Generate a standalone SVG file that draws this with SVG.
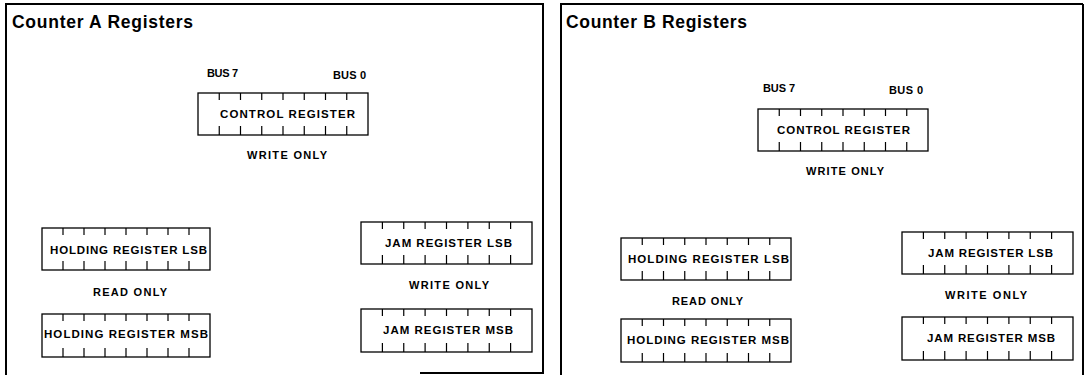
<svg xmlns="http://www.w3.org/2000/svg" width="1087" height="375" viewBox="0 0 1087 375">
<style>
.frame{fill:none;stroke:#000;stroke-width:2}
.box{fill:#fff;stroke:#000;stroke-width:1.3}
.tick{fill:none;stroke:#000;stroke-width:1.2}
.title{font-family:"Liberation Sans",Arial,sans-serif;font-weight:bold;font-size:17.5px;fill:#000}
.lbl{font-family:"Liberation Sans",Arial,sans-serif;font-weight:bold;font-size:11px;fill:#000}
.reg{font-family:"Liberation Sans",Arial,sans-serif;font-weight:bold;font-size:11.5px;fill:#000}
</style>
<g id="panelA">
<path class="frame" d="M6,375 V4 H543 V373 H420"/>
<text class="title" x="12" y="28" textLength="181" lengthAdjust="spacing">Counter A Registers</text>
</g>
<g id="panelB">
<path class="frame" d="M561,375 V4 H1083"/>
<path class="frame" stroke-width="3" d="M1083,4 V375"/>
<text class="title" x="566" y="28" textLength="181" lengthAdjust="spacing">Counter B Registers</text>
</g>
<g id="ctrlA">
<rect class="box" x="198" y="93" width="170" height="42"/>
<path class="tick" d="M219.25,93v7M240.5,93v7M261.75,93v7M283,93v7M304.25,93v7M325.5,93v7M346.75,93v7M219.25,126v9M240.5,126v9M261.75,126v9M283,126v9M304.25,126v9M325.5,126v9M346.75,126v9"/>
<text class="reg" x="220" y="118" textLength="135" lengthAdjust="spacing">CONTROL REGISTER</text>
<text class="lbl" x="207" y="77" textLength="31" lengthAdjust="spacing">BUS 7</text>
<text class="lbl" x="333" y="79" textLength="33" lengthAdjust="spacing">BUS 0</text>
<text class="lbl" x="247" y="159" textLength="80" lengthAdjust="spacing">WRITE ONLY</text>
</g>
<g id="holdLsbA">
<rect class="box" x="42" y="228" width="168" height="42"/>
<path class="tick" d="M63,228v7M84,228v7M105,228v7M126,228v7M147,228v7M168,228v7M189,228v7M63,261v9M84,261v9M105,261v9M126,261v9M147,261v9M168,261v9M189,261v9"/>
<text class="reg" x="50" y="254" textLength="157" lengthAdjust="spacing">HOLDING REGISTER LSB</text>
<text class="lbl" x="93" y="296" textLength="74" lengthAdjust="spacing">READ ONLY</text>
</g>
<g id="holdMsbA">
<rect class="box" x="42" y="314" width="168" height="43"/>
<path class="tick" d="M63,314v7M84,314v7M105,314v7M126,314v7M147,314v7M168,314v7M189,314v7M63,348v9M84,348v9M105,348v9M126,348v9M147,348v9M168,348v9M189,348v9"/>
<text class="reg" x="44" y="338" textLength="164" lengthAdjust="spacing">HOLDING REGISTER MSB</text>
</g>
<g id="jamLsbA">
<rect class="box" x="361" y="222" width="171" height="42"/>
<path class="tick" d="M382.4,222v7M403.75,222v7M425.1,222v7M446.5,222v7M467.9,222v7M489.25,222v7M510.6,222v7M382.4,255v9M403.75,255v9M425.1,255v9M446.5,255v9M467.9,255v9M489.25,255v9M510.6,255v9"/>
<text class="reg" x="385" y="247" textLength="127" lengthAdjust="spacing">JAM REGISTER LSB</text>
<text class="lbl" x="409" y="289" textLength="80" lengthAdjust="spacing">WRITE ONLY</text>
</g>
<g id="jamMsbA">
<rect class="box" x="361" y="309" width="171" height="43"/>
<path class="tick" d="M382.4,309v7M403.75,309v7M425.1,309v7M446.5,309v7M467.9,309v7M489.25,309v7M510.6,309v7M382.4,343v9M403.75,343v9M425.1,343v9M446.5,343v9M467.9,343v9M489.25,343v9M510.6,343v9"/>
<text class="reg" x="383" y="334" textLength="130" lengthAdjust="spacing">JAM REGISTER MSB</text>
</g>
<g id="ctrlB">
<rect class="box" x="758" y="109" width="170" height="42"/>
<path class="tick" d="M779.25,109v7M800.5,109v7M821.75,109v7M843,109v7M864.25,109v7M885.5,109v7M906.75,109v7M779.25,142v9M800.5,142v9M821.75,142v9M843,142v9M864.25,142v9M885.5,142v9M906.75,142v9"/>
<text class="reg" x="777" y="134" textLength="133" lengthAdjust="spacing">CONTROL REGISTER</text>
<text class="lbl" x="763" y="92" textLength="32" lengthAdjust="spacing">BUS 7</text>
<text class="lbl" x="889" y="94" textLength="34" lengthAdjust="spacing">BUS 0</text>
<text class="lbl" x="806" y="175" textLength="78" lengthAdjust="spacing">WRITE ONLY</text>
</g>
<g id="holdLsbB">
<rect class="box" x="621" y="238" width="170" height="42"/>
<path class="tick" d="M642.25,238v7M663.5,238v7M684.75,238v7M706,238v7M727.25,238v7M748.5,238v7M769.75,238v7M642.25,271v9M663.5,271v9M684.75,271v9M706,271v9M727.25,271v9M748.5,271v9M769.75,271v9"/>
<text class="reg" x="628" y="263" textLength="161" lengthAdjust="spacing">HOLDING REGISTER LSB</text>
<text class="lbl" x="672" y="305" textLength="71" lengthAdjust="spacing">READ ONLY</text>
</g>
<g id="holdMsbB">
<rect class="box" x="621" y="319" width="170" height="43"/>
<path class="tick" d="M642.25,319v7M663.5,319v7M684.75,319v7M706,319v7M727.25,319v7M748.5,319v7M769.75,319v7M642.25,353v9M663.5,353v9M684.75,353v9M706,353v9M727.25,353v9M748.5,353v9M769.75,353v9"/>
<text class="reg" x="627" y="344" textLength="162" lengthAdjust="spacing">HOLDING REGISTER MSB</text>
</g>
<g id="jamLsbB">
<rect class="box" x="902" y="232" width="171" height="42"/>
<path class="tick" d="M923.4,232v7M944.75,232v7M966.1,232v7M987.5,232v7M1008.9,232v7M1030.25,232v7M1051.6,232v7M923.4,265v9M944.75,265v9M966.1,265v9M987.5,265v9M1008.9,265v9M1030.25,265v9M1051.6,265v9"/>
<text class="reg" x="928" y="257" textLength="125" lengthAdjust="spacing">JAM REGISTER LSB</text>
<text class="lbl" x="945" y="299" textLength="82" lengthAdjust="spacing">WRITE ONLY</text>
</g>
<g id="jamMsbB">
<rect class="box" x="902" y="317" width="171" height="43"/>
<path class="tick" d="M923.4,317v7M944.75,317v7M966.1,317v7M987.5,317v7M1008.9,317v7M1030.25,317v7M1051.6,317v7M923.4,351v9M944.75,351v9M966.1,351v9M987.5,351v9M1008.9,351v9M1030.25,351v9M1051.6,351v9"/>
<text class="reg" x="927" y="342" textLength="128" lengthAdjust="spacing">JAM REGISTER MSB</text>
</g>
<g id="connectors"/>
</svg>
